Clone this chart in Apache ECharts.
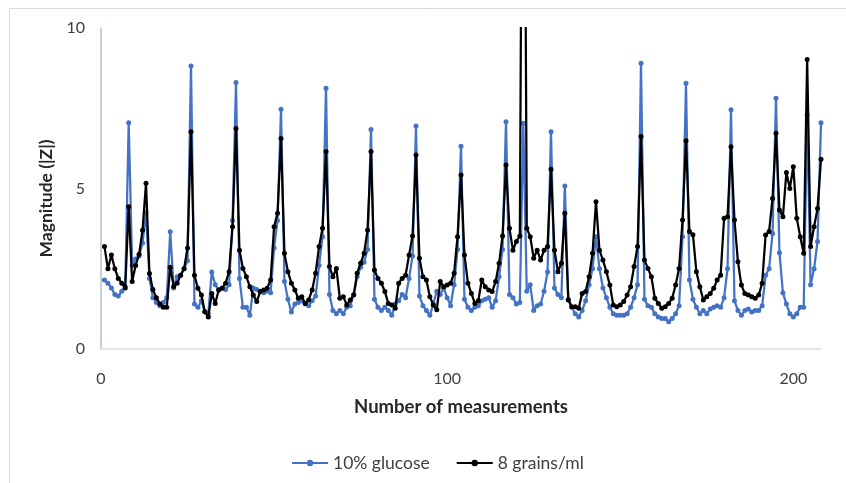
<!DOCTYPE html>
<html>
<head>
<meta charset="utf-8">
<script src="https://cdn.jsdelivr.net/npm/echarts@6/dist/echarts.min.js"></script>
<style>
html,body{margin:0;padding:0;background:#fff;}
#chart{width:846px;height:483px;}
</style>
</head>
<body>
<div id="chart"></div>
<script>
const seriesNames = ["10% glucose", "8 grains/ml"];
const xTicks = [0, 100, 200];
const yTicks = [0, 5, 10];

const glucose = [
2.15,2.05,1.9,1.7,1.65,1.8,1.95,7.05,2.6,2.8,
2.9,3.3,4.25,2.2,1.6,1.45,1.35,1.45,1.6,3.65,
1.9,2.25,2.3,2.5,2.75,8.82,1.4,1.3,1.5,1.15,
1.1,2.4,2.0,1.85,1.9,1.85,2.0,4.0,8.3,2.2,
1.3,1.3,1.05,1.9,1.85,1.8,1.75,1.8,1.75,3.15,
4.0,7.47,2.1,1.55,1.15,1.4,1.45,1.5,1.4,1.35,
1.5,1.65,2.6,3.5,8.12,1.7,1.2,1.1,1.2,1.1,
1.3,1.35,1.7,2.25,2.55,2.7,3.1,6.84,1.55,1.3,
1.2,1.3,1.2,1.05,1.4,1.5,1.7,1.6,2.2,2.9,
6.95,1.65,1.35,1.2,1.05,1.4,1.8,1.7,1.9,1.6,
1.35,2.0,3.1,6.32,1.55,1.3,1.2,1.3,1.35,1.5,
1.55,1.6,1.3,1.5,2.25,3.1,7.08,1.7,1.6,1.4,
1.45,7.03,1.8,2.0,1.2,1.35,1.4,1.8,2.4,6.77,
1.9,1.7,1.6,5.08,1.55,1.3,1.1,1.0,1.2,1.5,
2.0,2.5,3.5,2.5,1.9,1.6,1.3,1.1,1.05,1.05,
1.05,1.1,1.3,1.6,2.0,8.9,1.55,1.35,1.3,1.1,
1.0,0.95,0.95,0.85,0.95,1.1,1.35,3.5,8.28,2.15,
1.55,1.3,1.1,1.2,1.1,1.25,1.3,1.35,1.3,1.6,
2.5,7.45,1.5,1.2,1.05,1.2,1.25,1.15,1.2,1.2,
1.35,2.3,2.5,3.6,7.81,3.0,1.75,1.4,1.1,1.0,
1.1,1.3,1.3,7.29,2.0,2.5,3.35,7.05
];

const grains = [
3.19,2.5,2.93,2.5,2.2,2.05,1.9,4.43,2.1,2.6,
2.95,3.7,5.16,2.35,1.85,1.6,1.4,1.3,1.3,2.55,
1.95,2.05,2.3,2.5,3.15,6.77,2.3,1.89,1.68,1.16,
1.0,1.73,1.42,1.84,1.89,2.05,2.41,3.81,6.87,3.08,
2.51,2.25,1.94,1.68,1.48,1.79,1.84,1.89,2.15,3.81,
4.23,6.56,2.98,2.41,2.05,1.84,1.58,1.63,1.42,1.53,
1.84,2.36,3.19,3.76,6.15,2.57,2.25,2.51,1.58,1.63,
1.37,1.53,1.68,2.36,2.67,2.98,3.71,6.15,2.46,2.2,
2.05,1.79,1.42,1.37,1.27,2.05,2.2,2.3,2.93,3.52,
6.04,2.83,2.25,2.15,1.63,1.37,1.22,2.1,1.94,1.99,
2.05,2.36,3.5,5.42,2.93,2.05,1.73,1.42,1.5,2.15,
1.94,1.84,1.79,2.1,2.67,3.52,5.73,3.76,3.08,3.35,
3.52,25,3.76,3.5,2.83,3.08,2.77,3.08,3.19,5.6,
3.08,2.41,2.67,4.23,1.53,1.32,1.32,1.27,1.73,1.79,
2.25,2.98,4.59,3.08,2.77,2.41,1.99,1.37,1.32,1.37,
1.48,1.68,1.94,2.57,3.19,6.62,2.77,2.51,2.25,1.58,
1.42,1.27,1.32,1.42,1.58,1.99,2.51,4.02,6.49,3.66,
3.56,2.41,1.94,1.53,1.63,1.73,1.89,2.15,2.3,4.07,
4.12,6.3,4.02,2.72,1.99,1.73,1.68,1.63,1.58,1.68,
2.05,3.55,3.66,4.69,6.72,4.33,4.12,5.5,5.0,5.68,
4.07,3.5,2.98,9.02,3.19,3.81,4.38,5.91
];

const measurement = glucose.map((_, i) => i + 1);

const chart = echarts.init(document.getElementById('chart'), null, {renderer: 'canvas'});
const font = 'Lato';
chart.setOption({
  animation: false,
  backgroundColor: '#ffffff',
  graphic: [{
    type: 'rect', left: 7, top: 6, silent: true,
    shape: {width: 900, height: 600},
    style: {fill: 'none', stroke: '#d9d9d9', lineWidth: 1}
  }],
  grid: {left: 101, right: 25, top: 28, bottom: 134},
  legend: {
    left: 286, top: 449,
    itemWidth: 36, itemHeight: 8, itemGap: 26,
    textStyle: {fontFamily: font, fontSize: 17.5, color: '#404040'},
    data: seriesNames
  },
  xAxis: {
    type: 'value', min: 0, max: 208, interval: 100,
    name: 'Number of measurements', nameLocation: 'middle', nameGap: 49,
    nameTextStyle: {fontFamily: font, fontSize: 18.5, fontWeight: 'bold', color: '#262626'},
    axisLine: {show: true, lineStyle: {color: '#d9dde4', width: 1.5}},
    axisTick: {show: false}, splitLine: {show: false},
    axisLabel: {fontFamily: font, fontSize: 16, color: '#404040', margin: 22,
      formatter: v => xTicks.includes(v) ? String(v) : ''}
  },
  yAxis: {
    type: 'value', min: 0, max: 10, interval: 5,
    name: 'Magnitude (|Z|)', nameLocation: 'middle', nameGap: 40,
    nameTextStyle: {fontFamily: font, fontSize: 17.5, fontWeight: 'bold', color: '#262626', padding: [0, 0, 0, -20]},
    axisLine: {show: true, lineStyle: {color: '#b4bfcf', width: 1.5}},
    axisTick: {show: false}, splitLine: {show: false},
    axisLabel: {fontFamily: font, fontSize: 16, color: '#404040', margin: 16,
      formatter: v => yTicks.includes(v) ? String(v) : ''}
  },
  series: [
    {
      name: seriesNames[0], type: 'line',
      data: measurement.map((x, i) => [x, glucose[i]]),
      symbol: 'circle', symbolSize: 5, showAllSymbol: true,
      lineStyle: {color: '#4472c4', width: 2.25},
      itemStyle: {color: '#4472c4'},
      clip: true, z: 2
    },
    {
      name: seriesNames[1], type: 'line',
      data: measurement.map((x, i) => [x, grains[i]]),
      symbol: 'circle', symbolSize: 5, showAllSymbol: true,
      lineStyle: {color: '#000000', width: 2.25},
      itemStyle: {color: '#000000'},
      clip: true, z: 3
    }
  ]
});
</script>
</body>
</html>
